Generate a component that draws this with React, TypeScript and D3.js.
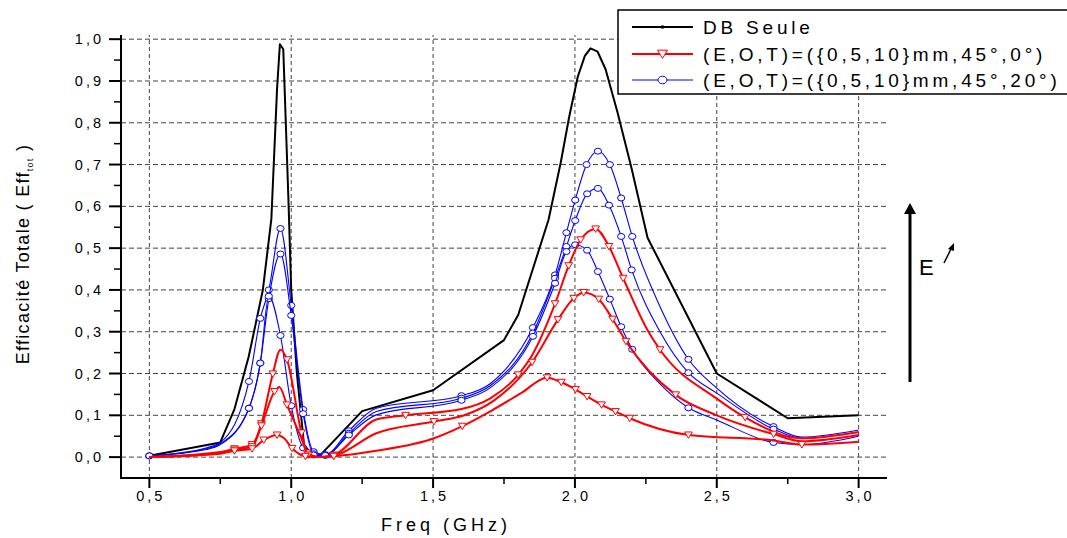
import React from "react";
import * as d3 from "d3";

// ---- data: [freq GHz, efficiency, marker(1/0)] ----
const dbSeule: [number, number][] = [
  [0.5, 0.003], [0.75, 0.035], [0.8, 0.115], [0.85, 0.24], [0.9, 0.4], [0.93, 0.57], [0.95, 0.88],
  [0.96, 0.988], [0.972, 0.976], [0.99, 0.62], [1.0, 0.4], [1.02, 0.2], [1.045, 0.03], [1.07, 0.008],
  [1.1, 0.003], [1.25, 0.11], [1.5, 0.16], [1.75, 0.28], [1.8, 0.34], [1.907, 0.568], [1.95, 0.705],
  [1.98, 0.815], [2.01, 0.91], [2.035, 0.96], [2.055, 0.978], [2.08, 0.97], [2.108, 0.928], [2.15, 0.825],
  [2.2, 0.69], [2.256, 0.525], [2.5, 0.2], [2.75, 0.093], [3.0, 0.1],
];

const red0a: [number, number, number][] = [
  [0.5, 0, 0], [0.75, 0.012, 0], [0.8, 0.02, 1], [0.862, 0.03, 1], [0.895, 0.08, 1], [0.935, 0.199, 1],
  [0.962, 0.257, 0], [0.985, 0.233, 1], [1.036, 0.058, 1], [1.056, 0.01, 1], [1.1, 0.0, 0], [1.15, 0.005, 1],
  [1.3, 0.09, 0], [1.403, 0.1, 1], [1.6, 0.115, 0], [1.7, 0.14, 0], [1.8, 0.197, 1], [1.85, 0.245, 0],
  [1.93, 0.367, 1], [1.978, 0.458, 1], [2.02, 0.52, 1], [2.073, 0.546, 1], [2.12, 0.504, 1], [2.17, 0.428, 1],
  [2.255, 0.305, 0], [2.3, 0.257, 1], [2.5, 0.14, 0], [2.6, 0.095, 1], [2.8, 0.045, 0], [3.0, 0.06, 0],
];

const red0b: [number, number, number][] = [
  [0.5, 0, 0], [0.75, 0.01, 0], [0.8, 0.017, 1], [0.862, 0.025, 1], [0.895, 0.075, 1], [0.941, 0.157, 1],
  [0.958, 0.168, 0], [0.985, 0.125, 1], [1.036, 0.045, 0], [1.06, 0.005, 1], [1.1, 0.0, 0], [1.15, 0.003, 1],
  [1.3, 0.057, 0], [1.503, 0.085, 1], [1.61, 0.1, 0], [1.714, 0.135, 0], [1.849, 0.227, 1], [1.94, 0.329, 1],
  [1.996, 0.38, 1], [2.031, 0.394, 1], [2.084, 0.378, 1], [2.133, 0.33, 1], [2.18, 0.277, 1], [2.355, 0.149, 1],
  [2.5, 0.1, 0], [2.7, 0.055, 1], [2.8, 0.038, 0], [3.0, 0.053, 0],
];

const red0c: [number, number, number][] = [
  [0.5, 0, 0], [0.75, 0.008, 0], [0.8, 0.015, 1], [0.862, 0.02, 1], [0.903, 0.041, 1], [0.95, 0.053, 1],
  [0.975, 0.045, 0], [1.003, 0.021, 1], [1.05, 0.002, 1], [1.1, 0.0, 0], [1.15, 0.002, 1], [1.3, 0.015, 0],
  [1.503, 0.045, 0], [1.603, 0.074, 1], [1.7, 0.109, 0], [1.81, 0.153, 0], [1.902, 0.19, 1], [1.952, 0.179, 1],
  [2.002, 0.162, 1], [2.043, 0.145, 1], [2.094, 0.125, 1], [2.143, 0.109, 1], [2.193, 0.093, 1], [2.4, 0.053, 1],
  [2.7, 0.04, 0], [2.8, 0.03, 1], [3.0, 0.037, 0],
];

const blue20a: [number, number, number][] = [
  [0.5, 0.003, 1], [0.7, 0.022, 0], [0.75, 0.035, 0], [0.851, 0.181, 1], [0.891, 0.332, 1], [0.921, 0.4, 1],
  [0.962, 0.547, 1], [1.0, 0.363, 1], [1.042, 0.114, 1], [1.079, 0.013, 1], [1.12, 0.006, 1], [1.203, 0.063, 1],
  [1.3, 0.117, 0], [1.6, 0.147, 1], [1.7, 0.175, 0], [1.852, 0.31, 1], [1.93, 0.436, 1], [1.97, 0.537, 1],
  [2.001, 0.615, 1], [2.041, 0.7, 1], [2.081, 0.732, 1], [2.123, 0.7, 1], [2.163, 0.62, 1], [2.202, 0.528, 1],
  [2.3, 0.36, 0], [2.4, 0.234, 1], [2.5, 0.165, 0], [2.7, 0.073, 1], [2.8, 0.048, 0], [3.0, 0.065, 0],
];

const blue20b: [number, number, number][] = [
  [0.5, 0.003, 1], [0.7, 0.02, 0], [0.75, 0.032, 0], [0.851, 0.117, 1], [0.891, 0.225, 1], [0.921, 0.379, 1],
  [0.962, 0.486, 1], [1.0, 0.339, 1], [1.042, 0.104, 1], [1.079, 0.008, 1], [1.12, 0.005, 1], [1.203, 0.057, 1],
  [1.3, 0.109, 0], [1.6, 0.141, 1], [1.7, 0.17, 0], [1.852, 0.297, 1], [1.93, 0.428, 1], [1.97, 0.504, 1],
  [2.001, 0.566, 1], [2.043, 0.63, 1], [2.081, 0.643, 1], [2.12, 0.603, 1], [2.163, 0.528, 1], [2.2, 0.448, 1],
  [2.3, 0.3, 0], [2.4, 0.202, 1], [2.5, 0.153, 0], [2.7, 0.067, 1], [2.8, 0.045, 0], [3.0, 0.06, 0],
];

const blue20c: [number, number, number][] = [
  [0.5, 0.003, 1], [0.7, 0.018, 0], [0.75, 0.03, 0], [0.851, 0.117, 1], [0.891, 0.225, 1], [0.921, 0.385, 1],
  [0.962, 0.291, 1], [1.0, 0.123, 1], [1.042, 0.022, 1], [1.079, 0.005, 1], [1.12, 0.004, 1], [1.203, 0.053, 1],
  [1.3, 0.101, 0], [1.6, 0.136, 1], [1.7, 0.165, 0], [1.852, 0.289, 1], [1.93, 0.416, 1], [1.97, 0.492, 1],
  [2.001, 0.508, 1], [2.043, 0.495, 1], [2.081, 0.444, 1], [2.123, 0.378, 1], [2.163, 0.312, 1], [2.202, 0.258, 1],
  [2.3, 0.175, 0], [2.4, 0.118, 1], [2.5, 0.089, 0], [2.7, 0.035, 1], [2.8, 0.03, 0], [3.0, 0.05, 0],
];

const xTicks = [0.5, 1.0, 1.5, 2.0, 2.5, 3.0];
const xMinorTicks = [0.75, 1.25, 1.75, 2.25, 2.75];
const yTicks = [0, 0.1, 0.2, 0.3, 0.4, 0.5, 0.6, 0.7, 0.8, 0.9, 1.0];
const yMinorTicks = [0.05, 0.15, 0.25, 0.35, 0.45, 0.55, 0.65, 0.75, 0.85, 0.95];
const legendLabels = ["DB Seule", "(E,O,T)=({0,5,10}mm,45°,0°)", "(E,O,T)=({0,5,10}mm,45°,20°)"];

const FONT = "'Liberation Sans', Arial, Helvetica, sans-serif";
const fmt = (v: number) => v.toFixed(1).replace(".", ",");

export default function App() {
  const x = d3.scaleLinear().domain([0.4, 3.1]).range([121, 887]);
  const y = d3.scaleLinear().domain([-0.05, 1.01]).range([478, 35]);

  const smooth = d3
    .line<number[]>()
    .x((d) => x(d[0]))
    .y((d) => y(d[1]))
    .curve(d3.curveMonotoneX);
  const straight = d3
    .line<number[]>()
    .x((d) => x(d[0]))
    .y((d) => y(d[1]));

  const tri = (cx: number, cy: number, s = 1) =>
    `M${cx - 4.5 * s},${cy - 3.5 * s}L${cx + 4.5 * s},${cy - 3.5 * s}L${cx},${cy + 4 * s}Z`;

  const reds = [red0a, red0b, red0c];
  const blues = [blue20a, blue20b, blue20c];

  const [x0, x1] = x.range();
  const [yb, yt] = y.range();

  return (
    <svg width={1067} height={538} style={{ position: "absolute", left: 0, top: 0, background: "#fff" }} fontFamily={FONT}>
      <rect x={0} y={0} width={1067} height={538} fill="#fff" />
      {/* grid */}
      {yTicks.map((t) => (
        <line key={"gy" + t} x1={x0} x2={x1} y1={y(t)} y2={y(t)} stroke="#444" strokeWidth={1} strokeDasharray="5,3" />
      ))}
      {xTicks.map((t) => (
        <line key={"gx" + t} x1={x(t)} x2={x(t)} y1={yb} y2={yt} stroke="#444" strokeWidth={1} strokeDasharray="4,3" />
      ))}

      {/* series */}
      <path d={straight(dbSeule) || ""} fill="none" stroke="#000" strokeWidth={2} strokeLinejoin="round" />
      {blues.map((s, i) => (
        <g key={"b" + i}>
          <path d={smooth(s) || ""} fill="none" stroke="#0000ff" strokeWidth={1.1} />
          {s.filter((d) => d[2]).map((d, j) => (
            <ellipse key={j} cx={x(d[0])} cy={y(d[1])} rx={3.6} ry={3} fill="#fff" stroke="#0000ff" strokeWidth={1} />
          ))}
        </g>
      ))}
      {reds.map((s, i) => (
        <g key={"r" + i}>
          <path d={smooth(s) || ""} fill="none" stroke="#ff0000" strokeWidth={2} />
          {s.filter((d) => d[2]).map((d, j) => (
            <path key={j} d={tri(x(d[0]), y(d[1]), 0.85)} fill="#fff" stroke="#ff0000" strokeWidth={1} />
          ))}
        </g>
      ))}

      {/* axes */}
      <line x1={x0} x2={x1} y1={yb} y2={yb} stroke="#000" strokeWidth={2} />
      <line x1={x0} x2={x0} y1={yb + 1} y2={yt} stroke="#000" strokeWidth={2} />
      {xTicks.map((t) => (
        <g key={"xt" + t}>
          <line x1={x(t)} x2={x(t)} y1={yb} y2={yb + 10} stroke="#000" strokeWidth={2} />
          <text x={x(t) + 1.5} y={501} textAnchor="middle" fontSize={14.5} letterSpacing={3} fill="#000">
            {fmt(t)}
          </text>
        </g>
      ))}
      {xMinorTicks.map((t) => (
        <line key={"xm" + t} x1={x(t)} x2={x(t)} y1={yb} y2={yb + 6} stroke="#000" strokeWidth={1.5} />
      ))}
      {yTicks.map((t) => (
        <g key={"yt" + t}>
          <line x1={x0 - 12} x2={x0} y1={y(t)} y2={y(t)} stroke="#000" strokeWidth={2} />
          <text x={104} y={y(t) + 5} textAnchor="end" fontSize={14.5} letterSpacing={3} fill="#000">
            {fmt(t)}
          </text>
        </g>
      ))}
      {yMinorTicks.map((t) => (
        <line key={"ym" + t} x1={x0 - 7} x2={x0} y1={y(t)} y2={y(t)} stroke="#000" strokeWidth={1.5} />
      ))}

      {/* axis titles */}
      <text x={446} y={531} textAnchor="middle" fontSize={18} letterSpacing={4} fill="#000">
        Freq (GHz)
      </text>
      <text transform="translate(29,254) rotate(-90)" textAnchor="middle" fontSize={18} letterSpacing={1.3} fill="#000">
        Efficacité Totale ( Eff
        <tspan fontSize={9} dy={4}>tot</tspan>
        <tspan dy={-4}> )</tspan>
      </text>

      {/* legend */}
      <rect x={618} y={10} width={470} height={84} fill="#fff" stroke="#000" strokeWidth={1.5} />
      {legendLabels.map((lab, i) => {
        const ly = [27, 54, 80][i];
        const col = ["#000", "#ff0000", "#0000ff"][i];
        return (
          <g key={"lg" + i}>
            <line x1={632} x2={693} y1={ly} y2={ly} stroke={col} strokeWidth={i === 2 ? 1.1 : 2} />
            {i === 0 && <rect x={661} y={ly - 1.5} width={3} height={3} fill="#000" />}
            {i === 1 && <path d={tri(662.5, ly, 1.1)} fill="#fff" stroke={col} strokeWidth={1} />}
            {i === 2 && <ellipse cx={662.5} cy={ly} rx={4.5} ry={3.8} fill="#fff" stroke={col} strokeWidth={1} />}
            <text x={703} y={ly + 7} fontSize={19} letterSpacing={3.8} fill="#000">
              {lab}
            </text>
          </g>
        );
      })}

      {/* E field arrow */}
      <line x1={910} x2={910} y1={382} y2={212} stroke="#000" strokeWidth={3} />
      <path d="M904,214L916,214L910,203Z" fill="#000" />
      <text x={919} y={275} fontSize={22} fill="#000">E</text>
      <line x1={944} x2={951} y1={263} y2={249} stroke="#000" strokeWidth={1.5} />
      <path d="M948,249L954,251L954,243Z" fill="#000" />
    </svg>
  );
}
